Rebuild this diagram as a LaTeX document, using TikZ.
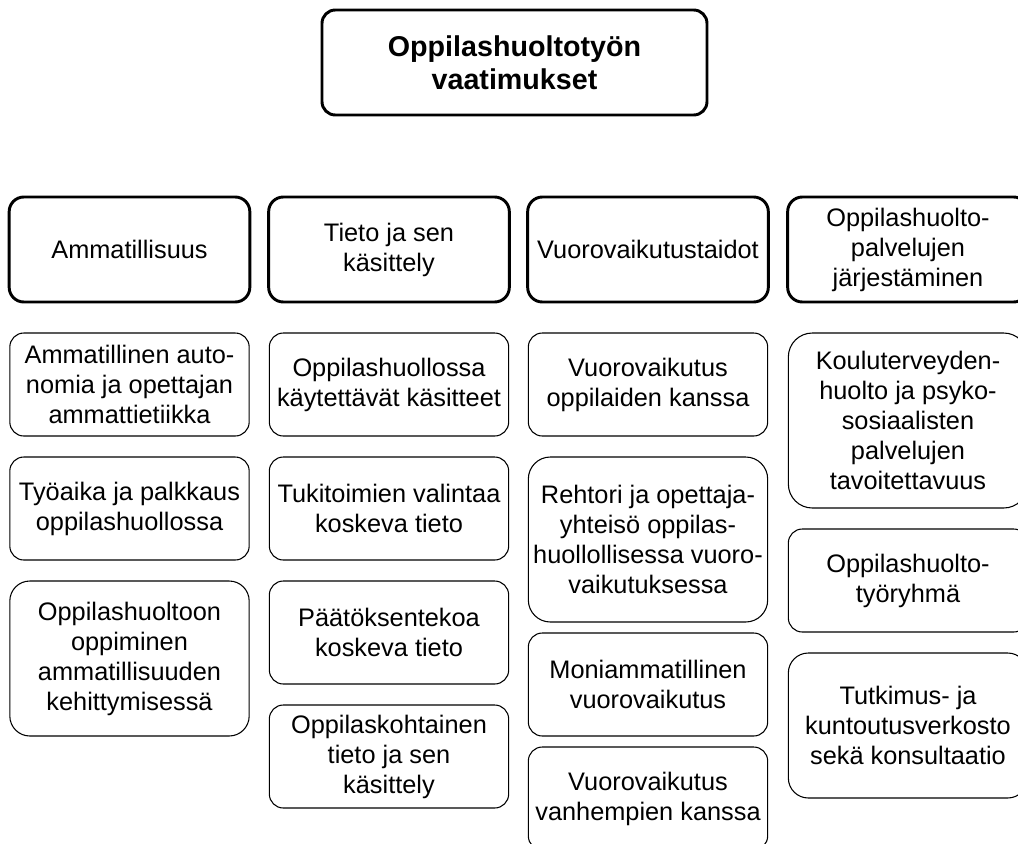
\documentclass[tikz,border=0pt]{standalone}
\usepackage{fontspec}
\setmainfont{Liberation Sans}

\begin{document}
\begin{tikzpicture}[x=0.75pt, y=-0.75pt,
    titlebox/.style={draw, line width=2.2pt, rounded corners=10pt, align=center,
        font=\fontsize{21.5}{24.5}\selectfont\bfseries,
        minimum width=288.75pt, minimum height=78.75pt},
    headbox/.style={draw, line width=2.2pt, rounded corners=11pt, align=center,
        font=\fontsize{19}{22.5}\selectfont, inner sep=1pt,
        minimum width=180.5pt, minimum height=78.75pt},
    subbox/.style={draw, line width=0.8pt, rounded corners=10.5pt, align=center,
        font=\fontsize{19}{22.5}\selectfont, inner sep=1pt,
        minimum width=179.5pt, minimum height=77.25pt},
    tallbox/.style={subbox, rounded corners=#1}]
    \useasboundingbox (0,0) rectangle (1018,843);
    \clip (0,0) rectangle (1018,843);

    \node[titlebox] (vaat) at (514.5,62.5) {Oppilashuoltotyön\\vaatimukset};

    \node[headbox] (ammat) at (129.5,249.5) {Ammatillisuus};
    \node[headbox] (tieto) at (389,249.5) {Tieto ja sen\\käsittely};
    \node[headbox] (vuoro) at (648,249.5) {Vuorovaikutustaidot};
    \node[headbox] (palv) at (908,249.5) {Oppilashuolto-\\palvelujen\\järjestäminen};

    \node[subbox] (ammat1) at (129.5,384.5) {Ammatillinen auto-\\nomia ja opettajan\\ammattietiikka};
    \node[subbox] (ammat2) at (129.5,508.5) {Työaika ja palkkaus\\oppilashuollossa};
    \node[tallbox=15pt, minimum height=116.25pt] (ammat3) at (129.5,658.5) {Oppilashuoltoon\\oppiminen\\ammatillisuuden\\kehittymisessä};

    \node[subbox] (tieto1) at (389,384.5) {Oppilashuollossa\\käytettävät käsitteet};
    \node[subbox] (tieto2) at (389,508.5) {Tukitoimien valintaa\\koskeva tieto};
    \node[subbox] (tieto3) at (389,632.5) {Päätöksentekoa\\koskeva tieto};
    \node[subbox] (tieto4) at (389,756.5) {Oppilaskohtainen\\tieto ja sen\\käsittely};

    \node[subbox] (vuoro1) at (648,384.5) {Vuorovaikutus\\oppilaiden kanssa};
    \node[tallbox=16.5pt, minimum height=123.75pt] (vuoro2) at (648,539.5) {Rehtori ja opettaja-\\yhteisö oppilas-\\huollollisessa vuoro-\\vaikutuksessa};
    \node[subbox] (vuoro3) at (648,684.5) {Moniammatillinen\\vuorovaikutus};
    \node[subbox] (vuoro4) at (648,798.5) {Vuorovaikutus\\vanhempien kanssa};

    \node[tallbox=18pt, minimum height=131.25pt] (palv1) at (908,420.5) {Kouluterveyden-\\huolto ja psyko-\\sosiaalisten\\palvelujen\\tavoitettavuus};
    \node[subbox] (palv2) at (908,580.5) {Oppilashuolto-\\työryhmä};
    \node[tallbox=15pt, minimum height=108.75pt] (palv3) at (908,725.5) {Tutkimus- ja\\kuntoutusverkosto\\sekä konsultaatio};
\end{tikzpicture}
\end{document}
